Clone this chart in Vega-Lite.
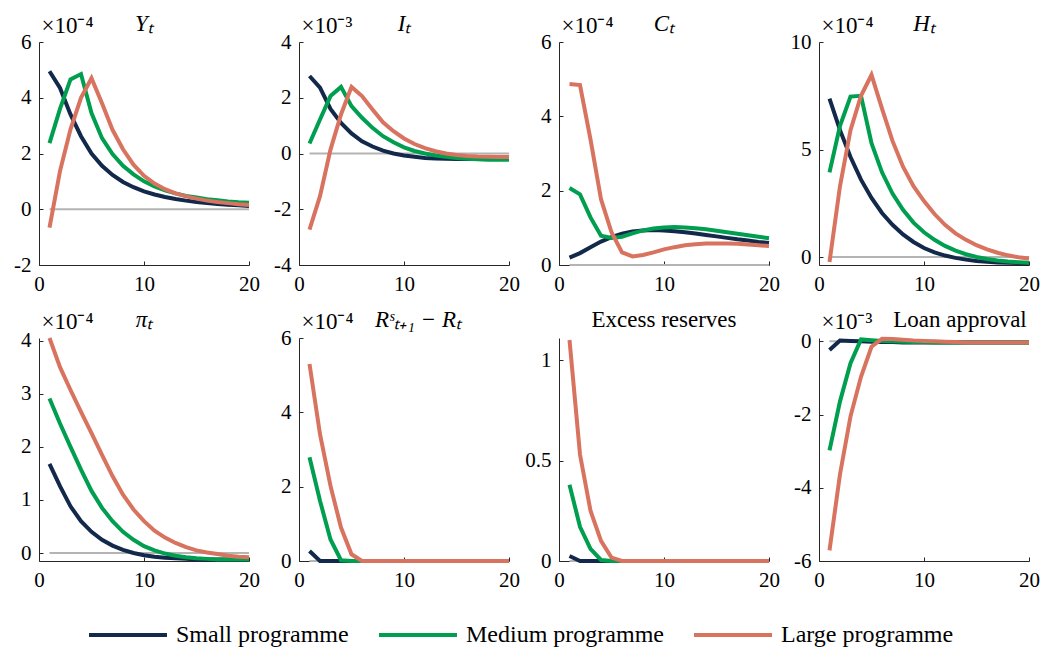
{
  "$schema": "https://vega.github.io/schema/vega-lite/v6.json",
  "background": "white",
  "padding": {"left": 13, "top": 13, "right": 10, "bottom": 0},
  "columns": 4,
  "spacing": {"row": 73, "column": 50},
  "bounds": "flush",
  "resolve": {"scale": {"x": "independent", "y": "independent", "color": "shared"}, "legend": {"color": "shared"}},
  "datasets": {
    "zero": [{"t": 1, "y": 0}, {"t": 20, "y": 0}],
    "irf": [
      {"v":"Y","s":"Small programme","t":1,"y":4.95},{"v":"Y","s":"Small programme","t":2,"y":4.35},{"v":"Y","s":"Small programme","t":3,"y":3.4},{"v":"Y","s":"Small programme","t":4,"y":2.62},{"v":"Y","s":"Small programme","t":5,"y":2.0},{"v":"Y","s":"Small programme","t":6,"y":1.56},{"v":"Y","s":"Small programme","t":7,"y":1.23},{"v":"Y","s":"Small programme","t":8,"y":0.98},{"v":"Y","s":"Small programme","t":9,"y":0.79},{"v":"Y","s":"Small programme","t":10,"y":0.64},{"v":"Y","s":"Small programme","t":11,"y":0.53},{"v":"Y","s":"Small programme","t":12,"y":0.44},{"v":"Y","s":"Small programme","t":13,"y":0.37},{"v":"Y","s":"Small programme","t":14,"y":0.31},{"v":"Y","s":"Small programme","t":15,"y":0.26},{"v":"Y","s":"Small programme","t":16,"y":0.22},{"v":"Y","s":"Small programme","t":17,"y":0.19},{"v":"Y","s":"Small programme","t":18,"y":0.16},{"v":"Y","s":"Small programme","t":19,"y":0.14},{"v":"Y","s":"Small programme","t":20,"y":0.12},
      {"v":"Y","s":"Medium programme","t":1,"y":2.37},{"v":"Y","s":"Medium programme","t":2,"y":3.6},{"v":"Y","s":"Medium programme","t":3,"y":4.66},{"v":"Y","s":"Medium programme","t":4,"y":4.85},{"v":"Y","s":"Medium programme","t":5,"y":3.45},{"v":"Y","s":"Medium programme","t":6,"y":2.55},{"v":"Y","s":"Medium programme","t":7,"y":1.98},{"v":"Y","s":"Medium programme","t":8,"y":1.56},{"v":"Y","s":"Medium programme","t":9,"y":1.25},{"v":"Y","s":"Medium programme","t":10,"y":1.0},{"v":"Y","s":"Medium programme","t":11,"y":0.82},{"v":"Y","s":"Medium programme","t":12,"y":0.68},{"v":"Y","s":"Medium programme","t":13,"y":0.57},{"v":"Y","s":"Medium programme","t":14,"y":0.48},{"v":"Y","s":"Medium programme","t":15,"y":0.42},{"v":"Y","s":"Medium programme","t":16,"y":0.36},{"v":"Y","s":"Medium programme","t":17,"y":0.32},{"v":"Y","s":"Medium programme","t":18,"y":0.28},{"v":"Y","s":"Medium programme","t":19,"y":0.25},{"v":"Y","s":"Medium programme","t":20,"y":0.23},
      {"v":"Y","s":"Large programme","t":1,"y":-0.66},{"v":"Y","s":"Large programme","t":2,"y":1.37},{"v":"Y","s":"Large programme","t":3,"y":2.87},{"v":"Y","s":"Large programme","t":4,"y":4.0},{"v":"Y","s":"Large programme","t":5,"y":4.7},{"v":"Y","s":"Large programme","t":6,"y":3.8},{"v":"Y","s":"Large programme","t":7,"y":2.85},{"v":"Y","s":"Large programme","t":8,"y":2.15},{"v":"Y","s":"Large programme","t":9,"y":1.6},{"v":"Y","s":"Large programme","t":10,"y":1.2},{"v":"Y","s":"Large programme","t":11,"y":0.92},{"v":"Y","s":"Large programme","t":12,"y":0.72},{"v":"Y","s":"Large programme","t":13,"y":0.57},{"v":"Y","s":"Large programme","t":14,"y":0.46},{"v":"Y","s":"Large programme","t":15,"y":0.38},{"v":"Y","s":"Large programme","t":16,"y":0.31},{"v":"Y","s":"Large programme","t":17,"y":0.26},{"v":"Y","s":"Large programme","t":18,"y":0.22},{"v":"Y","s":"Large programme","t":19,"y":0.18},{"v":"Y","s":"Large programme","t":20,"y":0.15},

      {"v":"I","s":"Small programme","t":1,"y":2.78},{"v":"I","s":"Small programme","t":2,"y":2.36},{"v":"I","s":"Small programme","t":3,"y":1.6},{"v":"I","s":"Small programme","t":4,"y":1.1},{"v":"I","s":"Small programme","t":5,"y":0.72},{"v":"I","s":"Small programme","t":6,"y":0.44},{"v":"I","s":"Small programme","t":7,"y":0.25},{"v":"I","s":"Small programme","t":8,"y":0.1},{"v":"I","s":"Small programme","t":9,"y":0.0},{"v":"I","s":"Small programme","t":10,"y":-0.07},{"v":"I","s":"Small programme","t":11,"y":-0.12},{"v":"I","s":"Small programme","t":12,"y":-0.16},{"v":"I","s":"Small programme","t":13,"y":-0.18},{"v":"I","s":"Small programme","t":14,"y":-0.19},{"v":"I","s":"Small programme","t":15,"y":-0.2},{"v":"I","s":"Small programme","t":16,"y":-0.2},{"v":"I","s":"Small programme","t":17,"y":-0.2},{"v":"I","s":"Small programme","t":18,"y":-0.2},{"v":"I","s":"Small programme","t":19,"y":-0.2},{"v":"I","s":"Small programme","t":20,"y":-0.2},
      {"v":"I","s":"Medium programme","t":1,"y":0.36},{"v":"I","s":"Medium programme","t":2,"y":1.22},{"v":"I","s":"Medium programme","t":3,"y":2.06},{"v":"I","s":"Medium programme","t":4,"y":2.39},{"v":"I","s":"Medium programme","t":5,"y":1.7},{"v":"I","s":"Medium programme","t":6,"y":1.28},{"v":"I","s":"Medium programme","t":7,"y":0.92},{"v":"I","s":"Medium programme","t":8,"y":0.62},{"v":"I","s":"Medium programme","t":9,"y":0.4},{"v":"I","s":"Medium programme","t":10,"y":0.22},{"v":"I","s":"Medium programme","t":11,"y":0.09},{"v":"I","s":"Medium programme","t":12,"y":0.0},{"v":"I","s":"Medium programme","t":13,"y":-0.07},{"v":"I","s":"Medium programme","t":14,"y":-0.12},{"v":"I","s":"Medium programme","t":15,"y":-0.16},{"v":"I","s":"Medium programme","t":16,"y":-0.19},{"v":"I","s":"Medium programme","t":17,"y":-0.21},{"v":"I","s":"Medium programme","t":18,"y":-0.22},{"v":"I","s":"Medium programme","t":19,"y":-0.22},{"v":"I","s":"Medium programme","t":20,"y":-0.22},
      {"v":"I","s":"Large programme","t":1,"y":-2.73},{"v":"I","s":"Large programme","t":2,"y":-1.53},{"v":"I","s":"Large programme","t":3,"y":0.14},{"v":"I","s":"Large programme","t":4,"y":1.4},{"v":"I","s":"Large programme","t":5,"y":2.39},{"v":"I","s":"Large programme","t":6,"y":2.06},{"v":"I","s":"Large programme","t":7,"y":1.58},{"v":"I","s":"Large programme","t":8,"y":1.12},{"v":"I","s":"Large programme","t":9,"y":0.8},{"v":"I","s":"Large programme","t":10,"y":0.54},{"v":"I","s":"Large programme","t":11,"y":0.34},{"v":"I","s":"Large programme","t":12,"y":0.19},{"v":"I","s":"Large programme","t":13,"y":0.08},{"v":"I","s":"Large programme","t":14,"y":0.0},{"v":"I","s":"Large programme","t":15,"y":-0.05},{"v":"I","s":"Large programme","t":16,"y":-0.09},{"v":"I","s":"Large programme","t":17,"y":-0.11},{"v":"I","s":"Large programme","t":18,"y":-0.12},{"v":"I","s":"Large programme","t":19,"y":-0.13},{"v":"I","s":"Large programme","t":20,"y":-0.13},

      {"v":"C","s":"Small programme","t":1,"y":0.2},{"v":"C","s":"Small programme","t":2,"y":0.32},{"v":"C","s":"Small programme","t":3,"y":0.48},{"v":"C","s":"Small programme","t":4,"y":0.63},{"v":"C","s":"Small programme","t":5,"y":0.75},{"v":"C","s":"Small programme","t":6,"y":0.84},{"v":"C","s":"Small programme","t":7,"y":0.9},{"v":"C","s":"Small programme","t":8,"y":0.93},{"v":"C","s":"Small programme","t":9,"y":0.94},{"v":"C","s":"Small programme","t":10,"y":0.93},{"v":"C","s":"Small programme","t":11,"y":0.91},{"v":"C","s":"Small programme","t":12,"y":0.88},{"v":"C","s":"Small programme","t":13,"y":0.85},{"v":"C","s":"Small programme","t":14,"y":0.81},{"v":"C","s":"Small programme","t":15,"y":0.77},{"v":"C","s":"Small programme","t":16,"y":0.73},{"v":"C","s":"Small programme","t":17,"y":0.69},{"v":"C","s":"Small programme","t":18,"y":0.66},{"v":"C","s":"Small programme","t":19,"y":0.62},{"v":"C","s":"Small programme","t":20,"y":0.59},
      {"v":"C","s":"Medium programme","t":1,"y":2.07},{"v":"C","s":"Medium programme","t":2,"y":1.9},{"v":"C","s":"Medium programme","t":3,"y":1.28},{"v":"C","s":"Medium programme","t":4,"y":0.79},{"v":"C","s":"Medium programme","t":5,"y":0.73},{"v":"C","s":"Medium programme","t":6,"y":0.76},{"v":"C","s":"Medium programme","t":7,"y":0.85},{"v":"C","s":"Medium programme","t":8,"y":0.93},{"v":"C","s":"Medium programme","t":9,"y":0.98},{"v":"C","s":"Medium programme","t":10,"y":1.01},{"v":"C","s":"Medium programme","t":11,"y":1.02},{"v":"C","s":"Medium programme","t":12,"y":1.01},{"v":"C","s":"Medium programme","t":13,"y":0.99},{"v":"C","s":"Medium programme","t":14,"y":0.96},{"v":"C","s":"Medium programme","t":15,"y":0.92},{"v":"C","s":"Medium programme","t":16,"y":0.88},{"v":"C","s":"Medium programme","t":17,"y":0.84},{"v":"C","s":"Medium programme","t":18,"y":0.8},{"v":"C","s":"Medium programme","t":19,"y":0.76},{"v":"C","s":"Medium programme","t":20,"y":0.72},
      {"v":"C","s":"Large programme","t":1,"y":4.87},{"v":"C","s":"Large programme","t":2,"y":4.84},{"v":"C","s":"Large programme","t":3,"y":3.38},{"v":"C","s":"Large programme","t":4,"y":1.77},{"v":"C","s":"Large programme","t":5,"y":0.88},{"v":"C","s":"Large programme","t":6,"y":0.34},{"v":"C","s":"Large programme","t":7,"y":0.23},{"v":"C","s":"Large programme","t":8,"y":0.27},{"v":"C","s":"Large programme","t":9,"y":0.34},{"v":"C","s":"Large programme","t":10,"y":0.42},{"v":"C","s":"Large programme","t":11,"y":0.48},{"v":"C","s":"Large programme","t":12,"y":0.53},{"v":"C","s":"Large programme","t":13,"y":0.56},{"v":"C","s":"Large programme","t":14,"y":0.58},{"v":"C","s":"Large programme","t":15,"y":0.58},{"v":"C","s":"Large programme","t":16,"y":0.58},{"v":"C","s":"Large programme","t":17,"y":0.57},{"v":"C","s":"Large programme","t":18,"y":0.55},{"v":"C","s":"Large programme","t":19,"y":0.53},{"v":"C","s":"Large programme","t":20,"y":0.51},

      {"v":"H","s":"Small programme","t":1,"y":7.37},{"v":"H","s":"Small programme","t":2,"y":5.9},{"v":"H","s":"Small programme","t":3,"y":4.65},{"v":"H","s":"Small programme","t":4,"y":3.6},{"v":"H","s":"Small programme","t":5,"y":2.75},{"v":"H","s":"Small programme","t":6,"y":2.05},{"v":"H","s":"Small programme","t":7,"y":1.5},{"v":"H","s":"Small programme","t":8,"y":1.05},{"v":"H","s":"Small programme","t":9,"y":0.7},{"v":"H","s":"Small programme","t":10,"y":0.42},{"v":"H","s":"Small programme","t":11,"y":0.22},{"v":"H","s":"Small programme","t":12,"y":0.07},{"v":"H","s":"Small programme","t":13,"y":-0.04},{"v":"H","s":"Small programme","t":14,"y":-0.12},{"v":"H","s":"Small programme","t":15,"y":-0.18},{"v":"H","s":"Small programme","t":16,"y":-0.22},{"v":"H","s":"Small programme","t":17,"y":-0.25},{"v":"H","s":"Small programme","t":18,"y":-0.27},{"v":"H","s":"Small programme","t":19,"y":-0.28},{"v":"H","s":"Small programme","t":20,"y":-0.29},
      {"v":"H","s":"Medium programme","t":1,"y":3.94},{"v":"H","s":"Medium programme","t":2,"y":6.1},{"v":"H","s":"Medium programme","t":3,"y":7.46},{"v":"H","s":"Medium programme","t":4,"y":7.5},{"v":"H","s":"Medium programme","t":5,"y":5.3},{"v":"H","s":"Medium programme","t":6,"y":3.94},{"v":"H","s":"Medium programme","t":7,"y":2.95},{"v":"H","s":"Medium programme","t":8,"y":2.2},{"v":"H","s":"Medium programme","t":9,"y":1.6},{"v":"H","s":"Medium programme","t":10,"y":1.15},{"v":"H","s":"Medium programme","t":11,"y":0.8},{"v":"H","s":"Medium programme","t":12,"y":0.52},{"v":"H","s":"Medium programme","t":13,"y":0.3},{"v":"H","s":"Medium programme","t":14,"y":0.13},{"v":"H","s":"Medium programme","t":15,"y":0.0},{"v":"H","s":"Medium programme","t":16,"y":-0.09},{"v":"H","s":"Medium programme","t":17,"y":-0.16},{"v":"H","s":"Medium programme","t":18,"y":-0.21},{"v":"H","s":"Medium programme","t":19,"y":-0.24},{"v":"H","s":"Medium programme","t":20,"y":-0.26},
      {"v":"H","s":"Large programme","t":1,"y":-0.23},{"v":"H","s":"Large programme","t":2,"y":3.3},{"v":"H","s":"Large programme","t":3,"y":5.9},{"v":"H","s":"Large programme","t":4,"y":7.5},{"v":"H","s":"Large programme","t":5,"y":8.47},{"v":"H","s":"Large programme","t":6,"y":6.9},{"v":"H","s":"Large programme","t":7,"y":5.4},{"v":"H","s":"Large programme","t":8,"y":4.2},{"v":"H","s":"Large programme","t":9,"y":3.3},{"v":"H","s":"Large programme","t":10,"y":2.6},{"v":"H","s":"Large programme","t":11,"y":2.0},{"v":"H","s":"Large programme","t":12,"y":1.5},{"v":"H","s":"Large programme","t":13,"y":1.1},{"v":"H","s":"Large programme","t":14,"y":0.8},{"v":"H","s":"Large programme","t":15,"y":0.55},{"v":"H","s":"Large programme","t":16,"y":0.36},{"v":"H","s":"Large programme","t":17,"y":0.2},{"v":"H","s":"Large programme","t":18,"y":0.08},{"v":"H","s":"Large programme","t":19,"y":-0.01},{"v":"H","s":"Large programme","t":20,"y":-0.07},

      {"v":"P","s":"Small programme","t":1,"y":1.68},{"v":"P","s":"Small programme","t":2,"y":1.26},{"v":"P","s":"Small programme","t":3,"y":0.88},{"v":"P","s":"Small programme","t":4,"y":0.6},{"v":"P","s":"Small programme","t":5,"y":0.4},{"v":"P","s":"Small programme","t":6,"y":0.25},{"v":"P","s":"Small programme","t":7,"y":0.14},{"v":"P","s":"Small programme","t":8,"y":0.06},{"v":"P","s":"Small programme","t":9,"y":0.0},{"v":"P","s":"Small programme","t":10,"y":-0.04},{"v":"P","s":"Small programme","t":11,"y":-0.07},{"v":"P","s":"Small programme","t":12,"y":-0.09},{"v":"P","s":"Small programme","t":13,"y":-0.1},{"v":"P","s":"Small programme","t":14,"y":-0.11},{"v":"P","s":"Small programme","t":15,"y":-0.12},{"v":"P","s":"Small programme","t":16,"y":-0.12},{"v":"P","s":"Small programme","t":17,"y":-0.12},{"v":"P","s":"Small programme","t":18,"y":-0.12},{"v":"P","s":"Small programme","t":19,"y":-0.12},{"v":"P","s":"Small programme","t":20,"y":-0.12},
      {"v":"P","s":"Medium programme","t":1,"y":2.91},{"v":"P","s":"Medium programme","t":2,"y":2.44},{"v":"P","s":"Medium programme","t":3,"y":2.0},{"v":"P","s":"Medium programme","t":4,"y":1.57},{"v":"P","s":"Medium programme","t":5,"y":1.17},{"v":"P","s":"Medium programme","t":6,"y":0.85},{"v":"P","s":"Medium programme","t":7,"y":0.6},{"v":"P","s":"Medium programme","t":8,"y":0.4},{"v":"P","s":"Medium programme","t":9,"y":0.25},{"v":"P","s":"Medium programme","t":10,"y":0.13},{"v":"P","s":"Medium programme","t":11,"y":0.05},{"v":"P","s":"Medium programme","t":12,"y":-0.01},{"v":"P","s":"Medium programme","t":13,"y":-0.05},{"v":"P","s":"Medium programme","t":14,"y":-0.08},{"v":"P","s":"Medium programme","t":15,"y":-0.1},{"v":"P","s":"Medium programme","t":16,"y":-0.11},{"v":"P","s":"Medium programme","t":17,"y":-0.12},{"v":"P","s":"Medium programme","t":18,"y":-0.12},{"v":"P","s":"Medium programme","t":19,"y":-0.12},{"v":"P","s":"Medium programme","t":20,"y":-0.12},
      {"v":"P","s":"Large programme","t":1,"y":4.05},{"v":"P","s":"Large programme","t":2,"y":3.5},{"v":"P","s":"Large programme","t":3,"y":3.07},{"v":"P","s":"Large programme","t":4,"y":2.66},{"v":"P","s":"Large programme","t":5,"y":2.26},{"v":"P","s":"Large programme","t":6,"y":1.85},{"v":"P","s":"Large programme","t":7,"y":1.45},{"v":"P","s":"Large programme","t":8,"y":1.1},{"v":"P","s":"Large programme","t":9,"y":0.82},{"v":"P","s":"Large programme","t":10,"y":0.6},{"v":"P","s":"Large programme","t":11,"y":0.42},{"v":"P","s":"Large programme","t":12,"y":0.29},{"v":"P","s":"Large programme","t":13,"y":0.19},{"v":"P","s":"Large programme","t":14,"y":0.11},{"v":"P","s":"Large programme","t":15,"y":0.05},{"v":"P","s":"Large programme","t":16,"y":0.01},{"v":"P","s":"Large programme","t":17,"y":-0.02},{"v":"P","s":"Large programme","t":18,"y":-0.05},{"v":"P","s":"Large programme","t":19,"y":-0.07},{"v":"P","s":"Large programme","t":20,"y":-0.08},

      {"v":"R","s":"Small programme","t":1,"y":0.27},{"v":"R","s":"Small programme","t":2,"y":0},{"v":"R","s":"Small programme","t":3,"y":0},{"v":"R","s":"Small programme","t":4,"y":0},{"v":"R","s":"Small programme","t":5,"y":0},{"v":"R","s":"Small programme","t":6,"y":0},{"v":"R","s":"Small programme","t":7,"y":0},{"v":"R","s":"Small programme","t":8,"y":0},{"v":"R","s":"Small programme","t":9,"y":0},{"v":"R","s":"Small programme","t":10,"y":0},{"v":"R","s":"Small programme","t":11,"y":0},{"v":"R","s":"Small programme","t":12,"y":0},{"v":"R","s":"Small programme","t":13,"y":0},{"v":"R","s":"Small programme","t":14,"y":0},{"v":"R","s":"Small programme","t":15,"y":0},{"v":"R","s":"Small programme","t":16,"y":0},{"v":"R","s":"Small programme","t":17,"y":0},{"v":"R","s":"Small programme","t":18,"y":0},{"v":"R","s":"Small programme","t":19,"y":0},{"v":"R","s":"Small programme","t":20,"y":0},
      {"v":"R","s":"Medium programme","t":1,"y":2.79},{"v":"R","s":"Medium programme","t":2,"y":1.62},{"v":"R","s":"Medium programme","t":3,"y":0.58},{"v":"R","s":"Medium programme","t":4,"y":0.02},{"v":"R","s":"Medium programme","t":5,"y":0},{"v":"R","s":"Medium programme","t":6,"y":0},{"v":"R","s":"Medium programme","t":7,"y":0},{"v":"R","s":"Medium programme","t":8,"y":0},{"v":"R","s":"Medium programme","t":9,"y":0},{"v":"R","s":"Medium programme","t":10,"y":0},{"v":"R","s":"Medium programme","t":11,"y":0},{"v":"R","s":"Medium programme","t":12,"y":0},{"v":"R","s":"Medium programme","t":13,"y":0},{"v":"R","s":"Medium programme","t":14,"y":0},{"v":"R","s":"Medium programme","t":15,"y":0},{"v":"R","s":"Medium programme","t":16,"y":0},{"v":"R","s":"Medium programme","t":17,"y":0},{"v":"R","s":"Medium programme","t":18,"y":0},{"v":"R","s":"Medium programme","t":19,"y":0},{"v":"R","s":"Medium programme","t":20,"y":0},
      {"v":"R","s":"Large programme","t":1,"y":5.3},{"v":"R","s":"Large programme","t":2,"y":3.41},{"v":"R","s":"Large programme","t":3,"y":2.02},{"v":"R","s":"Large programme","t":4,"y":0.9},{"v":"R","s":"Large programme","t":5,"y":0.18},{"v":"R","s":"Large programme","t":6,"y":0},{"v":"R","s":"Large programme","t":7,"y":0},{"v":"R","s":"Large programme","t":8,"y":0},{"v":"R","s":"Large programme","t":9,"y":0},{"v":"R","s":"Large programme","t":10,"y":0},{"v":"R","s":"Large programme","t":11,"y":0},{"v":"R","s":"Large programme","t":12,"y":0},{"v":"R","s":"Large programme","t":13,"y":0},{"v":"R","s":"Large programme","t":14,"y":0},{"v":"R","s":"Large programme","t":15,"y":0},{"v":"R","s":"Large programme","t":16,"y":0},{"v":"R","s":"Large programme","t":17,"y":0},{"v":"R","s":"Large programme","t":18,"y":0},{"v":"R","s":"Large programme","t":19,"y":0},{"v":"R","s":"Large programme","t":20,"y":0},

      {"v":"E","s":"Small programme","t":1,"y":0.025},{"v":"E","s":"Small programme","t":2,"y":0},{"v":"E","s":"Small programme","t":3,"y":0},{"v":"E","s":"Small programme","t":4,"y":0},{"v":"E","s":"Small programme","t":5,"y":0},{"v":"E","s":"Small programme","t":6,"y":0},{"v":"E","s":"Small programme","t":7,"y":0},{"v":"E","s":"Small programme","t":8,"y":0},{"v":"E","s":"Small programme","t":9,"y":0},{"v":"E","s":"Small programme","t":10,"y":0},{"v":"E","s":"Small programme","t":11,"y":0},{"v":"E","s":"Small programme","t":12,"y":0},{"v":"E","s":"Small programme","t":13,"y":0},{"v":"E","s":"Small programme","t":14,"y":0},{"v":"E","s":"Small programme","t":15,"y":0},{"v":"E","s":"Small programme","t":16,"y":0},{"v":"E","s":"Small programme","t":17,"y":0},{"v":"E","s":"Small programme","t":18,"y":0},{"v":"E","s":"Small programme","t":19,"y":0},{"v":"E","s":"Small programme","t":20,"y":0},
      {"v":"E","s":"Medium programme","t":1,"y":0.38},{"v":"E","s":"Medium programme","t":2,"y":0.17},{"v":"E","s":"Medium programme","t":3,"y":0.06},{"v":"E","s":"Medium programme","t":4,"y":0.005},{"v":"E","s":"Medium programme","t":5,"y":0},{"v":"E","s":"Medium programme","t":6,"y":0},{"v":"E","s":"Medium programme","t":7,"y":0},{"v":"E","s":"Medium programme","t":8,"y":0},{"v":"E","s":"Medium programme","t":9,"y":0},{"v":"E","s":"Medium programme","t":10,"y":0},{"v":"E","s":"Medium programme","t":11,"y":0},{"v":"E","s":"Medium programme","t":12,"y":0},{"v":"E","s":"Medium programme","t":13,"y":0},{"v":"E","s":"Medium programme","t":14,"y":0},{"v":"E","s":"Medium programme","t":15,"y":0},{"v":"E","s":"Medium programme","t":16,"y":0},{"v":"E","s":"Medium programme","t":17,"y":0},{"v":"E","s":"Medium programme","t":18,"y":0},{"v":"E","s":"Medium programme","t":19,"y":0},{"v":"E","s":"Medium programme","t":20,"y":0},
      {"v":"E","s":"Large programme","t":1,"y":1.1},{"v":"E","s":"Large programme","t":2,"y":0.53},{"v":"E","s":"Large programme","t":3,"y":0.25},{"v":"E","s":"Large programme","t":4,"y":0.1},{"v":"E","s":"Large programme","t":5,"y":0.017},{"v":"E","s":"Large programme","t":6,"y":0},{"v":"E","s":"Large programme","t":7,"y":0},{"v":"E","s":"Large programme","t":8,"y":0},{"v":"E","s":"Large programme","t":9,"y":0},{"v":"E","s":"Large programme","t":10,"y":0},{"v":"E","s":"Large programme","t":11,"y":0},{"v":"E","s":"Large programme","t":12,"y":0},{"v":"E","s":"Large programme","t":13,"y":0},{"v":"E","s":"Large programme","t":14,"y":0},{"v":"E","s":"Large programme","t":15,"y":0},{"v":"E","s":"Large programme","t":16,"y":0},{"v":"E","s":"Large programme","t":17,"y":0},{"v":"E","s":"Large programme","t":18,"y":0},{"v":"E","s":"Large programme","t":19,"y":0},{"v":"E","s":"Large programme","t":20,"y":0},

      {"v":"L","s":"Small programme","t":1,"y":-0.24},{"v":"L","s":"Small programme","t":2,"y":0.02},{"v":"L","s":"Small programme","t":3,"y":0.01},{"v":"L","s":"Small programme","t":4,"y":0.0},{"v":"L","s":"Small programme","t":5,"y":-0.01},{"v":"L","s":"Small programme","t":6,"y":-0.02},{"v":"L","s":"Small programme","t":7,"y":-0.02},{"v":"L","s":"Small programme","t":8,"y":-0.03},{"v":"L","s":"Small programme","t":9,"y":-0.03},{"v":"L","s":"Small programme","t":10,"y":-0.03},{"v":"L","s":"Small programme","t":11,"y":-0.03},{"v":"L","s":"Small programme","t":12,"y":-0.03},{"v":"L","s":"Small programme","t":13,"y":-0.03},{"v":"L","s":"Small programme","t":14,"y":-0.03},{"v":"L","s":"Small programme","t":15,"y":-0.03},{"v":"L","s":"Small programme","t":16,"y":-0.03},{"v":"L","s":"Small programme","t":17,"y":-0.03},{"v":"L","s":"Small programme","t":18,"y":-0.03},{"v":"L","s":"Small programme","t":19,"y":-0.03},{"v":"L","s":"Small programme","t":20,"y":-0.03},
      {"v":"L","s":"Medium programme","t":1,"y":-2.98},{"v":"L","s":"Medium programme","t":2,"y":-1.64},{"v":"L","s":"Medium programme","t":3,"y":-0.6},{"v":"L","s":"Medium programme","t":4,"y":0.05},{"v":"L","s":"Medium programme","t":5,"y":0.03},{"v":"L","s":"Medium programme","t":6,"y":0.01},{"v":"L","s":"Medium programme","t":7,"y":0.0},{"v":"L","s":"Medium programme","t":8,"y":-0.01},{"v":"L","s":"Medium programme","t":9,"y":-0.02},{"v":"L","s":"Medium programme","t":10,"y":-0.02},{"v":"L","s":"Medium programme","t":11,"y":-0.03},{"v":"L","s":"Medium programme","t":12,"y":-0.03},{"v":"L","s":"Medium programme","t":13,"y":-0.03},{"v":"L","s":"Medium programme","t":14,"y":-0.03},{"v":"L","s":"Medium programme","t":15,"y":-0.03},{"v":"L","s":"Medium programme","t":16,"y":-0.03},{"v":"L","s":"Medium programme","t":17,"y":-0.03},{"v":"L","s":"Medium programme","t":18,"y":-0.03},{"v":"L","s":"Medium programme","t":19,"y":-0.03},{"v":"L","s":"Medium programme","t":20,"y":-0.03},
      {"v":"L","s":"Large programme","t":1,"y":-5.71},{"v":"L","s":"Large programme","t":2,"y":-3.63},{"v":"L","s":"Large programme","t":3,"y":-2.05},{"v":"L","s":"Large programme","t":4,"y":-0.97},{"v":"L","s":"Large programme","t":5,"y":-0.15},{"v":"L","s":"Large programme","t":6,"y":0.07},{"v":"L","s":"Large programme","t":7,"y":0.06},{"v":"L","s":"Large programme","t":8,"y":0.04},{"v":"L","s":"Large programme","t":9,"y":0.02},{"v":"L","s":"Large programme","t":10,"y":0.01},{"v":"L","s":"Large programme","t":11,"y":0.0},{"v":"L","s":"Large programme","t":12,"y":-0.01},{"v":"L","s":"Large programme","t":13,"y":-0.02},{"v":"L","s":"Large programme","t":14,"y":-0.03},{"v":"L","s":"Large programme","t":15,"y":-0.03},{"v":"L","s":"Large programme","t":16,"y":-0.03},{"v":"L","s":"Large programme","t":17,"y":-0.03},{"v":"L","s":"Large programme","t":18,"y":-0.03},{"v":"L","s":"Large programme","t":19,"y":-0.03},{"v":"L","s":"Large programme","t":20,"y":-0.03}
    ]
  },
  "concat": [
    {
      "width": 210, "height": 223,
      "title": {"text": "Yₜ", "fontStyle": "italic"},
      "encoding": {
        "x": {"field": "t", "type": "quantitative", "scale": {"domain": [0, 20], "nice": false}, "axis": {"values": [0, 10, 20], "title": null}},
        "y": {"field": "y", "type": "quantitative", "scale": {"domain": [-2, 6], "nice": false, "zero": false}, "axis": {"values": [-2, 0, 2, 4, 6], "title": "×10⁻⁴"}}
      },
      "layer": [
        {"data": {"name": "zero"}, "mark": {"type": "line", "color": "#b4b4b4", "strokeWidth": 2}},
        {"data": {"name": "irf"}, "transform": [{"filter": "datum.v === 'Y'"}], "mark": {"type": "line", "strokeWidth": 4},
         "encoding": {"color": {"field": "s", "type": "nominal", "sort": ["Small programme", "Medium programme", "Large programme"], "scale": {"domain": ["Small programme", "Medium programme", "Large programme"], "range": ["#13294b", "#009e4f", "#d8735f"]}, "legend": {"title": null, "orient": "none", "direction": "horizontal", "legendX": 77, "legendY": 581}}}}
      ]
    },
    {
      "width": 210, "height": 223,
      "title": {"text": "Iₜ", "fontStyle": "italic"},
      "encoding": {
        "x": {"field": "t", "type": "quantitative", "scale": {"domain": [0, 20], "nice": false}, "axis": {"values": [0, 10, 20], "title": null}},
        "y": {"field": "y", "type": "quantitative", "scale": {"domain": [-4, 4], "nice": false, "zero": false}, "axis": {"values": [-4, -2, 0, 2, 4], "title": "×10⁻³"}}
      },
      "layer": [
        {"data": {"name": "zero"}, "mark": {"type": "line", "color": "#b4b4b4", "strokeWidth": 2}},
        {"data": {"name": "irf"}, "transform": [{"filter": "datum.v === 'I'"}], "mark": {"type": "line", "strokeWidth": 4},
         "encoding": {"color": {"field": "s", "type": "nominal", "sort": ["Small programme", "Medium programme", "Large programme"], "scale": {"domain": ["Small programme", "Medium programme", "Large programme"], "range": ["#13294b", "#009e4f", "#d8735f"]}, "legend": {"title": null, "orient": "none", "direction": "horizontal", "legendX": 77, "legendY": 581}}}}
      ]
    },
    {
      "width": 210, "height": 223,
      "title": {"text": "Cₜ", "fontStyle": "italic"},
      "encoding": {
        "x": {"field": "t", "type": "quantitative", "scale": {"domain": [0, 20], "nice": false}, "axis": {"values": [0, 10, 20], "title": null}},
        "y": {"field": "y", "type": "quantitative", "scale": {"domain": [0, 6], "nice": false, "zero": false}, "axis": {"values": [0, 2, 4, 6], "title": "×10⁻⁴"}}
      },
      "layer": [
        {"data": {"name": "zero"}, "mark": {"type": "line", "color": "#b4b4b4", "strokeWidth": 2}},
        {"data": {"name": "irf"}, "transform": [{"filter": "datum.v === 'C'"}], "mark": {"type": "line", "strokeWidth": 4},
         "encoding": {"color": {"field": "s", "type": "nominal", "sort": ["Small programme", "Medium programme", "Large programme"], "scale": {"domain": ["Small programme", "Medium programme", "Large programme"], "range": ["#13294b", "#009e4f", "#d8735f"]}, "legend": {"title": null, "orient": "none", "direction": "horizontal", "legendX": 77, "legendY": 581}}}}
      ]
    },
    {
      "width": 210, "height": 223,
      "title": {"text": "Hₜ", "fontStyle": "italic"},
      "encoding": {
        "x": {"field": "t", "type": "quantitative", "scale": {"domain": [0, 20], "nice": false}, "axis": {"values": [0, 10, 20], "title": null}},
        "y": {"field": "y", "type": "quantitative", "scale": {"domain": [-0.37, 10], "nice": false, "zero": false}, "axis": {"values": [0, 5, 10], "title": "×10⁻⁴"}}
      },
      "layer": [
        {"data": {"name": "zero"}, "mark": {"type": "line", "color": "#b4b4b4", "strokeWidth": 2}},
        {"data": {"name": "irf"}, "transform": [{"filter": "datum.v === 'H'"}], "mark": {"type": "line", "strokeWidth": 4},
         "encoding": {"color": {"field": "s", "type": "nominal", "sort": ["Small programme", "Medium programme", "Large programme"], "scale": {"domain": ["Small programme", "Medium programme", "Large programme"], "range": ["#13294b", "#009e4f", "#d8735f"]}, "legend": {"title": null, "orient": "none", "direction": "horizontal", "legendX": 77, "legendY": 581}}}}
      ]
    },
    {
      "width": 210, "height": 223,
      "title": {"text": "πₜ", "fontStyle": "italic"},
      "encoding": {
        "x": {"field": "t", "type": "quantitative", "scale": {"domain": [0, 20], "nice": false}, "axis": {"values": [0, 10, 20], "title": null}},
        "y": {"field": "y", "type": "quantitative", "scale": {"domain": [-0.15, 4.05], "nice": false, "zero": false}, "axis": {"values": [0, 1, 2, 3, 4], "title": "×10⁻⁴"}}
      },
      "layer": [
        {"data": {"name": "zero"}, "mark": {"type": "line", "color": "#b4b4b4", "strokeWidth": 2}},
        {"data": {"name": "irf"}, "transform": [{"filter": "datum.v === 'P'"}], "mark": {"type": "line", "strokeWidth": 4},
         "encoding": {"color": {"field": "s", "type": "nominal", "sort": ["Small programme", "Medium programme", "Large programme"], "scale": {"domain": ["Small programme", "Medium programme", "Large programme"], "range": ["#13294b", "#009e4f", "#d8735f"]}, "legend": {"title": null, "orient": "none", "direction": "horizontal", "legendX": 77, "legendY": 581}}}}
      ]
    },
    {
      "width": 210, "height": 223,
      "title": {"text": "Rˢₜ₊₁ − Rₜ", "fontStyle": "italic", "dx": 14},
      "encoding": {
        "x": {"field": "t", "type": "quantitative", "scale": {"domain": [0, 20], "nice": false}, "axis": {"values": [0, 10, 20], "title": null}},
        "y": {"field": "y", "type": "quantitative", "scale": {"domain": [0, 6], "nice": false, "zero": false}, "axis": {"values": [0, 2, 4, 6], "title": "×10⁻⁴"}}
      },
      "layer": [
        {"data": {"name": "zero"}, "mark": {"type": "line", "color": "#b4b4b4", "strokeWidth": 2}},
        {"data": {"name": "irf"}, "transform": [{"filter": "datum.v === 'R'"}], "mark": {"type": "line", "strokeWidth": 4},
         "encoding": {"color": {"field": "s", "type": "nominal", "sort": ["Small programme", "Medium programme", "Large programme"], "scale": {"domain": ["Small programme", "Medium programme", "Large programme"], "range": ["#13294b", "#009e4f", "#d8735f"]}, "legend": {"title": null, "orient": "none", "direction": "horizontal", "legendX": 77, "legendY": 581}}}}
      ]
    },
    {
      "width": 210, "height": 223,
      "title": {"text": "Excess reserves", "dy": 9},
      "encoding": {
        "x": {"field": "t", "type": "quantitative", "scale": {"domain": [0, 20], "nice": false}, "axis": {"values": [0, 10, 20], "title": null}},
        "y": {"field": "y", "type": "quantitative", "scale": {"domain": [0, 1.11], "nice": false, "zero": false}, "axis": {"values": [0, 0.5, 1], "format": "~g", "title": null}}
      },
      "layer": [
        {"data": {"name": "zero"}, "mark": {"type": "line", "color": "#b4b4b4", "strokeWidth": 2}},
        {"data": {"name": "irf"}, "transform": [{"filter": "datum.v === 'E'"}], "mark": {"type": "line", "strokeWidth": 4},
         "encoding": {"color": {"field": "s", "type": "nominal", "sort": ["Small programme", "Medium programme", "Large programme"], "scale": {"domain": ["Small programme", "Medium programme", "Large programme"], "range": ["#13294b", "#009e4f", "#d8735f"]}, "legend": {"title": null, "orient": "none", "direction": "horizontal", "legendX": 77, "legendY": 581}}}}
      ]
    },
    {
      "width": 210, "height": 223,
      "title": {"text": "Loan approval", "dx": 36},
      "encoding": {
        "x": {"field": "t", "type": "quantitative", "scale": {"domain": [0, 20], "nice": false}, "axis": {"values": [0, 10, 20], "title": null}},
        "y": {"field": "y", "type": "quantitative", "scale": {"domain": [-6, 0.09], "nice": false, "zero": false}, "axis": {"values": [-6, -4, -2, 0], "title": "×10⁻³"}}
      },
      "layer": [
        {"data": {"name": "zero"}, "mark": {"type": "line", "color": "#b4b4b4", "strokeWidth": 2}},
        {"data": {"name": "irf"}, "transform": [{"filter": "datum.v === 'L'"}], "mark": {"type": "line", "strokeWidth": 4},
         "encoding": {"color": {"field": "s", "type": "nominal", "sort": ["Small programme", "Medium programme", "Large programme"], "scale": {"domain": ["Small programme", "Medium programme", "Large programme"], "range": ["#13294b", "#009e4f", "#d8735f"]}, "legend": {"title": null, "orient": "none", "direction": "horizontal", "legendX": 77, "legendY": 581}}}}
      ]
    }
  ],
  "config": {
    "font": "Liberation Serif",
    "view": {"stroke": null},
    "axis": {
      "grid": false, "domainColor": "#262626", "domainWidth": 1, "tickColor": "#262626", "tickSize": -4,
      "labelColor": "#000000", "labelFont": "Liberation Serif", "labelFontSize": 21, "labelPadding": 12,
      "titleFont": "Liberation Serif", "titleFontSize": 23, "titleFontWeight": "normal", "titleColor": "#000000",
      "labelExpr": "replace(datum.label, '−', '-')"
    },
    "axisX": {"labelFlush": false, "labelPadding": 12},
    "axisY": {"titleAngle": 0, "titleAlign": "left", "titleBaseline": "alphabetic", "titleX": 2, "titleY": -10},
    "title": {"font": "Liberation Serif", "fontSize": 23, "fontWeight": "normal", "color": "#000000", "offset": 9, "anchor": "middle", "dy": 31},
    "legend": {
      "symbolType": "M-4,0L4,0", "symbolSize": 380, "symbolStrokeWidth": 4,
      "labelFont": "Liberation Serif", "labelFontSize": 24, "labelColor": "#000000", "columnPadding": 22, "labelOffset": 36,
      "labelLimit": 400, "padding": 0
    }
  }
}
